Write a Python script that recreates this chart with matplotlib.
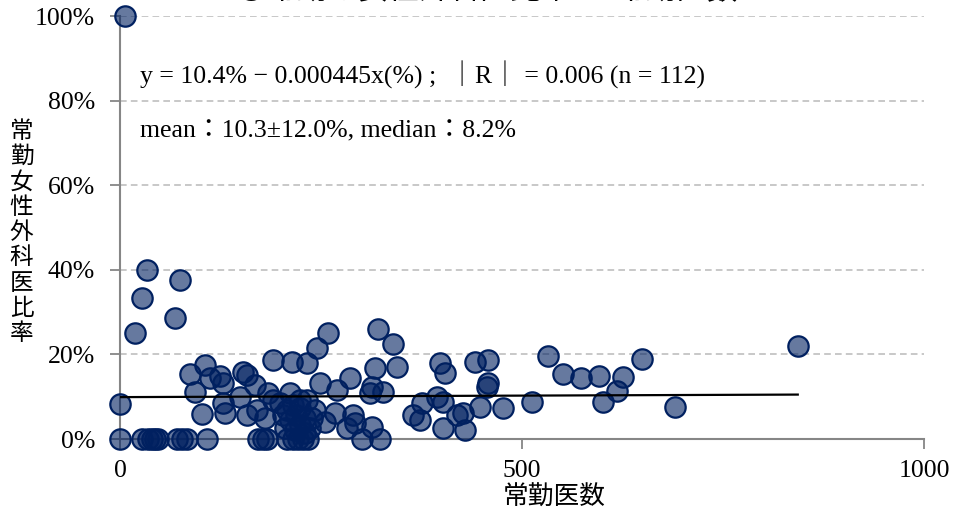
import matplotlib
matplotlib.use("Agg")
import matplotlib.pyplot as plt
import numpy as np

# 常勤医数 (x) と 常勤女性外科医比率 (%) : 112施設
doctors = [6, 0, 0, 27, 35, 40, 44, 47, 34, 27, 19, 75, 68, 71, 77, 83, 108,
           87, 106, 112, 124, 128, 93, 102, 128, 131, 153, 158, 168, 149, 158,
           170, 184, 190, 180, 190, 214, 233, 245, 259, 211, 233, 249, 270,
           286, 267, 255, 290, 292, 282, 313, 301, 323, 321, 340, 317, 345,
           313, 311, 327, 364, 376, 373, 394, 402, 398, 404, 402, 419, 427,
           429, 448, 442, 458, 456, 458, 476, 512, 532, 551, 573, 596, 626,
           649, 618, 601, 690, 843, 172, 178, 183, 208, 215, 221, 228, 234,
           199, 208, 215, 219, 211, 224, 230, 239, 236, 218, 205, 224, 243,
           203, 230, 224]
female_ratio = [100, 8.3, 0, 0, 0, 0, 0, 0, 40, 33.3, 25, 37.5, 28.6, 0, 0, 0,
                0, 15.4, 17.5, 14.4, 15, 13.2, 11.1, 5.9, 8.5, 6.1, 15.8, 15.1,
                12.8, 10, 5.7, 6.9, 10.9, 9.2, 5, 18.7, 18.2, 18, 21.5, 25,
                10.9, 9.2, 13.2, 11.6, 14.4, 6.1, 4, 5.7, 3.8, 2.6, 2.8, 0, 0,
                26, 22.4, 16.8, 17, 12.3, 10.9, 11.1, 5.7, 8.5, 4.5, 10, 8.7,
                18, 15.6, 2.6, 5.7, 6.1, 2.1, 7.6, 18.2, 18.7, 12.3, 13.2, 7.3,
                8.7, 19.6, 15.4, 14.4, 14.9, 14.7, 18.9, 11.3, 8.7, 7.6, 22,
                0, 0, 0, 0, 0, 0, 0, 0, 8.5, 6.9, 8, 5.7, 4.5, 3.3, 5, 5, 2.6,
                2.1, 2.6, 7.3, 6.9, 5.7, 1.4, 9.2]

# 回帰直線 (画像から読んだ端点)
trend_x = [0, 843]
trend_y = [9.9, 10.5]

y_ticks = [0, 20, 40, 60, 80, 100]
x_ticks = [0, 500, 1000]

serif_jp = ["Liberation Serif", "Noto Sans CJK JP"]
jp = ["Noto Sans CJK JP", "DejaVu Sans"]

fig = plt.figure(figsize=(9.54, 5.19), dpi=100)
ax = fig.add_axes([120 / 954, 1 - 439 / 519, 804 / 954, 423 / 519])

for t in y_ticks[1:]:
    ax.axhline(t, color="#BFBFBF", lw=1.2, ls=(0, (4, 2.5)), zorder=0)

ax.scatter(doctors, female_ratio, s=215, facecolor=(0, 0.125, 0.376, 0.6),
           edgecolor="#002060", linewidth=1.6, zorder=3, clip_on=False)
ax.plot(trend_x, trend_y, color="black", lw=1.6, zorder=4)

ax.set_xlim(0, 1000)
ax.set_ylim(0, 100)
ax.set_xticks(x_ticks)
ax.set_yticks(y_ticks)
ax.set_xticklabels([str(v) for v in x_ticks], family=serif_jp, fontsize=18.5)
ax.set_yticklabels([f"{v}%" for v in y_ticks], family=serif_jp, fontsize=18.5)
ax.tick_params(axis="both", direction="out", length=7, width=1.3,
               color="#868686")
ax.tick_params(axis="y", pad=11)
ax.tick_params(axis="x", pad=8)

for side in ("top", "right"):
    ax.spines[side].set_visible(False)
for side in ("left", "bottom"):
    ax.spines[side].set_color("#868686")
    ax.spines[side].set_linewidth(1.5)

fig.text(554 / 954, 1 - 498 / 519, "常勤医数", family=jp, fontsize=18.5,
         ha="center", va="center")
fig.text(21.5 / 954, 1 - 232.5 / 519, "\n".join("常勤女性外科医比率"),
         family=jp, fontsize=17, ha="center", va="center", linespacing=1.13)

ax.text(25, 86, "y = 10.4% − 0.000445x(%) ;  ｜R｜ = 0.006 (n = 112)",
        family=serif_jp, fontsize=18.5, va="center")
ax.text(25, 72.8, "mean：10.3±12.0%, median：8.2%",
        family=serif_jp, fontsize=18.5, va="center")

fig.text(0.51, 1.0046, "③常勤の女性外科医比率 vs 常勤医数", family=jp,
         fontsize=22, ha="center", va="baseline")

fig.savefig("out.png", dpi=100)
